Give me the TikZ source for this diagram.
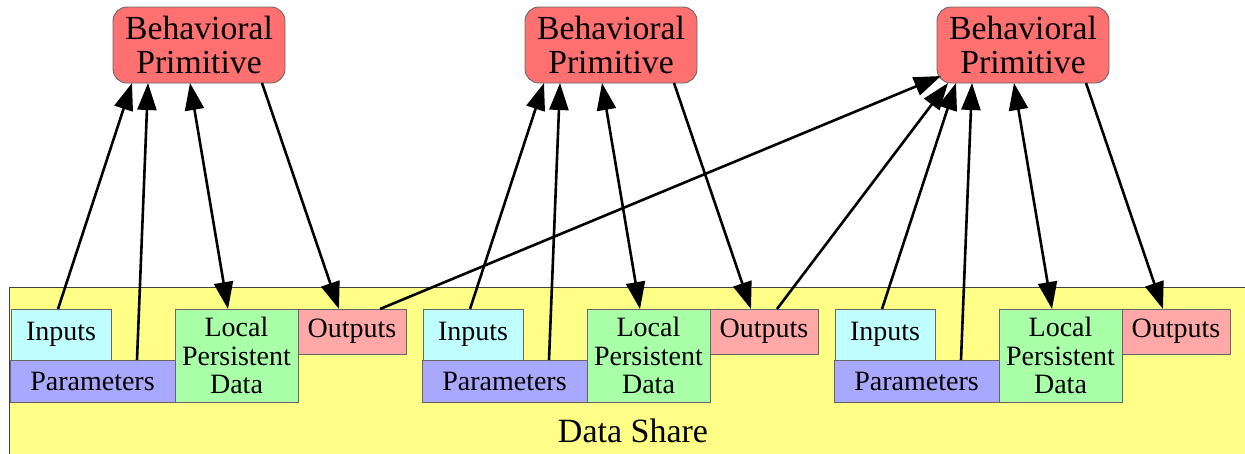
\documentclass[tikz,border=0pt]{standalone}
\usepackage{fontspec}
\setmainfont{Liberation Serif}
\usetikzlibrary{arrows.meta,calc}

\definecolor{bpfill}{HTML}{FF7070}
\definecolor{infill}{HTML}{C0FFFF}
\definecolor{parfill}{HTML}{A8A8FF}
\definecolor{lpdfill}{HTML}{A8FFA8}
\definecolor{outfill}{HTML}{FFA8A8}
\definecolor{sharefill}{HTML}{FFFF88}
\definecolor{edgegray}{HTML}{666666}

\begin{document}
\begin{tikzpicture}[x=1pt,y=-1pt,
  every node/.style={outer sep=0pt, inner sep=0pt},
  bpnode/.style={draw=edgegray, line width=0.9pt, fill=bpfill, rounded corners=14pt,
    minimum width=172pt, minimum height=76pt, align=center,
    font=\fontsize{33.7}{34}\selectfont},
  databox/.style={draw=edgegray, line width=0.7pt, anchor=north west, align=center,
    font=\fontsize{28}{28.5}\selectfont},
  inbox/.style={databox, fill=infill, minimum width=100pt, minimum height=51pt},
  parbox/.style={databox, fill=parfill, minimum width=165pt, minimum height=42pt},
  lpdbox/.style={databox, fill=lpdfill, minimum width=123pt, minimum height=93pt},
  outbox/.style={databox, fill=outfill, minimum width=108pt, minimum height=45pt},
  sharebox/.style={draw=black!75, line width=1pt, fill=sharefill, anchor=north west,
    minimum width=1270pt, minimum height=200pt},
  tip/.tip={Triangle[length=27pt,width=19pt]},
  conn/.style={line width=2.6pt, -tip},
  biconn/.style={line width=2.6pt, tip-tip}
]
\useasboundingbox (0,0) rectangle (1245,453);
\clip (0,0) rectangle (1245,453);

% shared data area
\node[sharebox] (share) at (9,287) {};
\node[anchor=base, font=\fontsize{34}{34}\selectfont] (sharelabel) at (633,442) {Data Share};

% three primitives, each with its own block of data
\foreach \g/\dx in {1/0,2/412,3/824}{
  \node[bpnode] (bp\g) at (199+\dx,45) {Behavioral\\Primitive};
  \node[inbox] (in\g) at (11+\dx,309) {Inputs};
  \node[parbox] (par\g) at (10+\dx,360) {Parameters};
  \node[lpdbox] (lpd\g) at (175+\dx,309) {Local\\Persistent\\Data};
  \node[outbox] (out\g) at (298+\dx,309) {Outputs};
}

\foreach \g in {1,2,3}{
  \draw[conn] ($(in\g.north)+(-3,0)$) -- ($(bp\g.south)+(-67,0)$);
  \draw[conn] ($(par\g.north)+(44.5,0)$) -- ($(bp\g.south)+(-51,0)$);
  \draw[biconn] ($(lpd\g.north)+(-8.5,0)$) -- ($(bp\g.south)+(-9,0)$);
  \draw[conn] ($(bp\g.south)+(63,0)$) -- ($(out\g.north)+(-13,0)$);
}

% outputs feeding the third primitive
\draw[conn] ($(out1.north)+(28,0)$) -- ($(bp3.south west)+(4,-7)$);
\draw[conn] ($(out2.north)+(13,0)$) -- ($(bp3.south west)+(11,0)$);
\end{tikzpicture}
\end{document}
